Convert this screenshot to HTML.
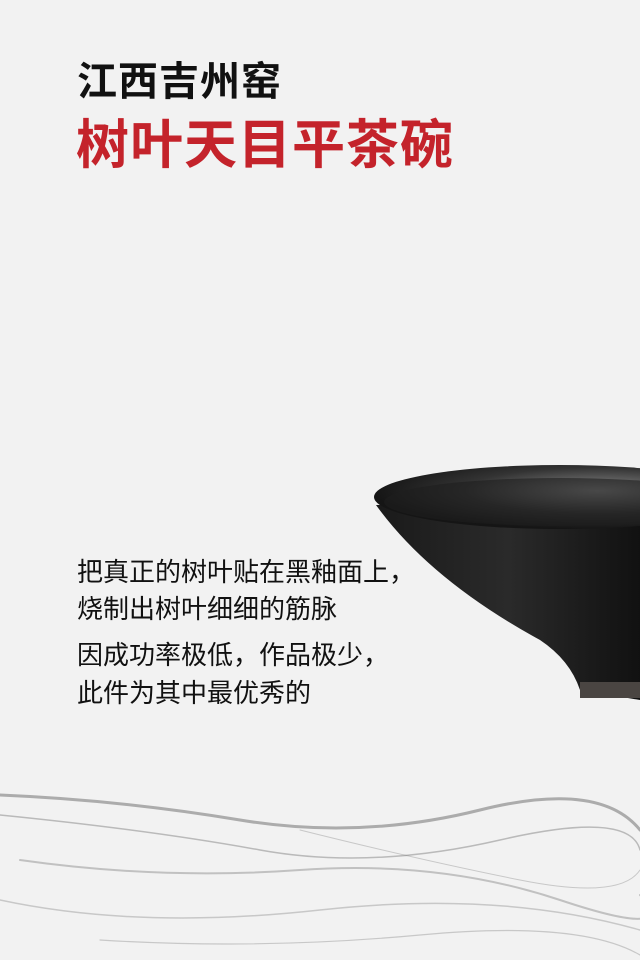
<!DOCTYPE html>
<html><head><meta charset="utf-8">
<style>
html,body{margin:0;padding:0;}
body{width:640px;height:960px;background:#f2f2f2;position:relative;overflow:hidden;font-family:"Liberation Sans","Noto Sans CJK SC",sans-serif;}
.t1{position:absolute;left:77px;top:58px;font-size:40px;line-height:48px;font-weight:bold;color:#111;letter-spacing:1px;}
.t2{position:absolute;left:76px;top:115px;font-size:53px;line-height:62px;font-weight:bold;color:#c4232b;letter-spacing:1px;}
.ln{position:absolute;left:77px;font-size:26px;line-height:32px;color:#111;white-space:nowrap;}
svg{position:absolute;left:0;top:0;}
</style></head>
<body>
<svg width="640" height="960">
  <defs>
    <linearGradient id="bowl" x1="0" y1="0" x2="1" y2="0">
      <stop offset="0" stop-color="#1a1a1a"/><stop offset="0.5" stop-color="#2a2a2a"/><stop offset="1" stop-color="#111"/>
    </linearGradient>
    <radialGradient id="rim" cx="0.6" cy="0.4" r="0.6">
      <stop offset="0" stop-color="#888"/><stop offset="0.6" stop-color="#333"/><stop offset="1" stop-color="#151515"/>
    </radialGradient>
  </defs>
  <g>
    <path d="M376 505 Q430 580 540 640 Q570 660 580 690 L640 700 L640 500 Z" fill="url(#bowl)"/>
    <rect x="580" y="682" width="60" height="16" fill="#4a4542"/>
    <ellipse cx="560" cy="497" rx="186" ry="32" fill="url(#rim)"/>
    <ellipse cx="560" cy="502" rx="176" ry="24" fill="#1e1e1e" opacity="0.6"/>
  </g>
  <g fill="none" stroke="#666" stroke-linecap="round">
    <path d="M0 795 Q120 800 240 820 T480 810 T640 830" stroke-width="3" opacity="0.5"/>
    <path d="M0 815 Q150 830 260 850 T500 840 T640 850" stroke-width="1.5" opacity="0.4"/>
    <path d="M20 860 Q160 880 300 870 T560 900 T640 895" stroke-width="2" opacity="0.35"/>
    <path d="M0 900 Q140 930 320 910 T640 930" stroke-width="1.5" opacity="0.3"/>
    <path d="M100 940 Q260 950 420 935 T640 955" stroke-width="1.2" opacity="0.3"/>
    <path d="M300 830 Q420 860 520 880 T640 870" stroke-width="1" opacity="0.3"/>
  </g>
</svg>
<div class="t1">江西吉州窑</div>
<div class="t2">树叶天目平茶碗</div>
<div class="ln" style="top:556px">把真正的树叶贴在黑釉面上，</div>
<div class="ln" style="top:593px">烧制出树叶细细的筋脉</div>
<div class="ln" style="top:639px">因成功率极低，作品极少，</div>
<div class="ln" style="top:677px">此件为其中最优秀的</div>
</body></html>
